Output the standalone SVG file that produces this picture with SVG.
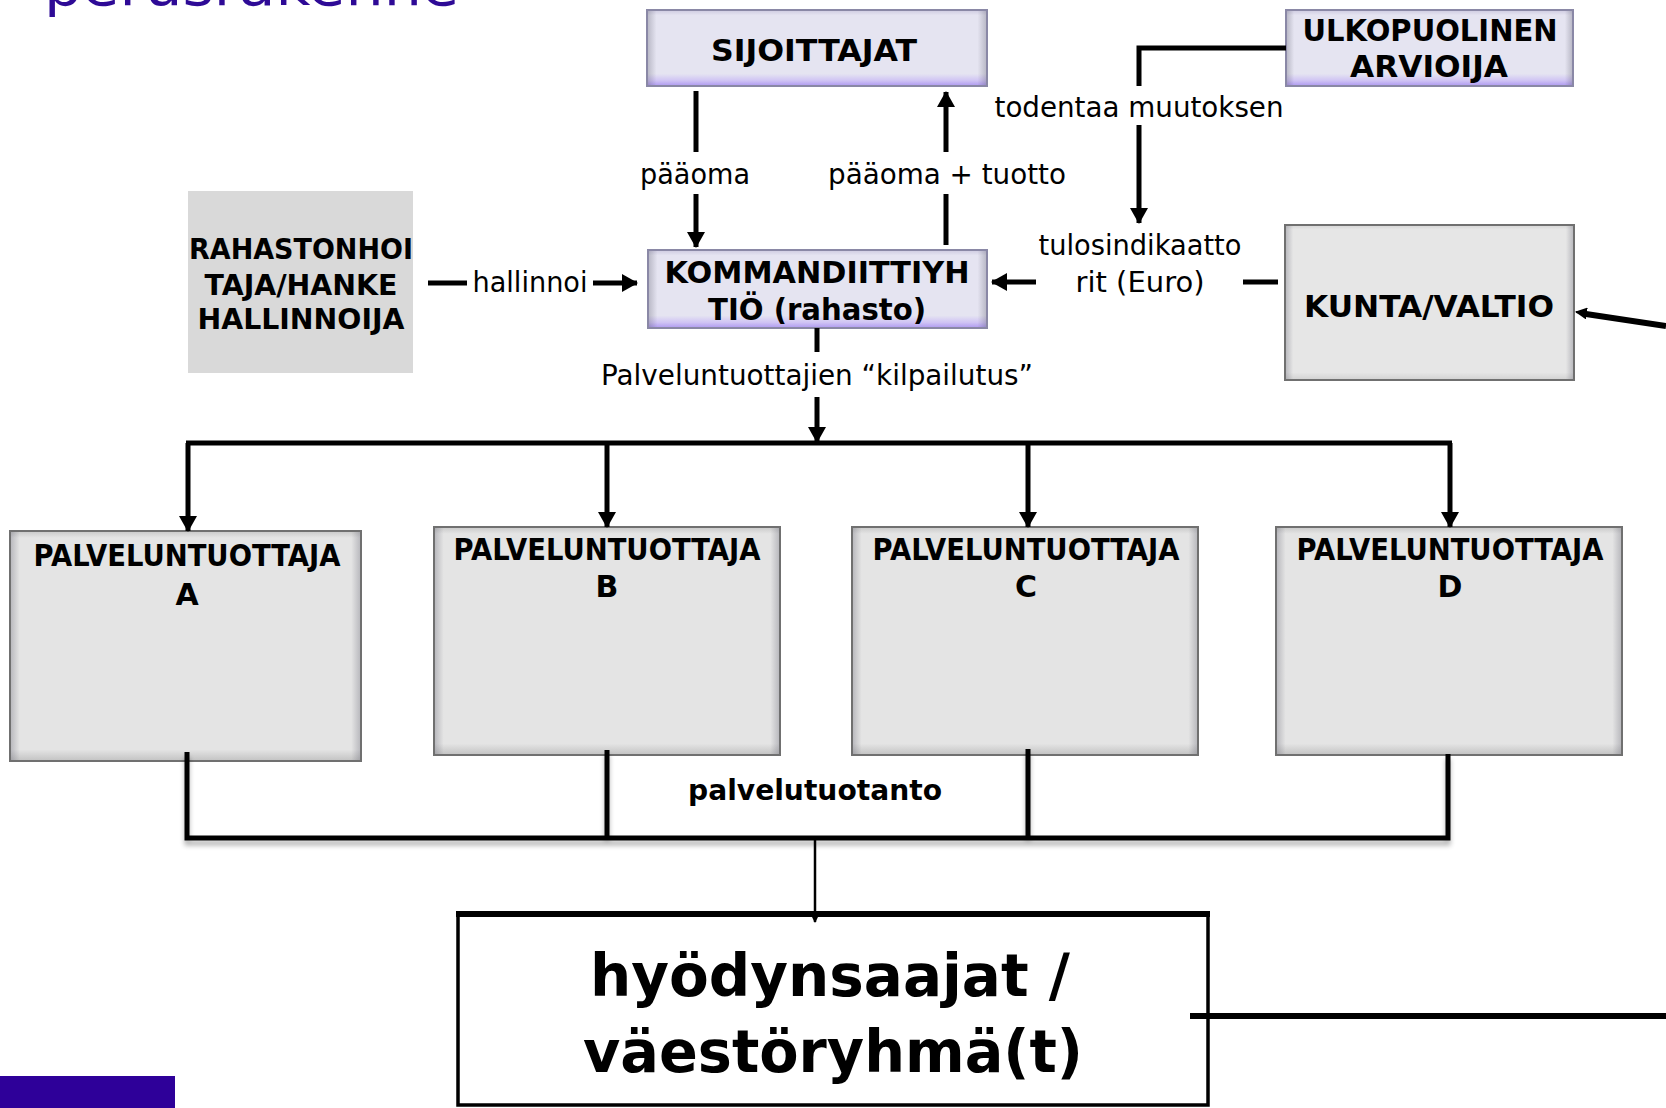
<svg xmlns="http://www.w3.org/2000/svg" width="1666" height="1108" viewBox="0 0 1666 1108">
<defs>
<style>
.t{font-family:"DejaVu Sans","Verdana",sans-serif;font-size:28px;fill:#000;text-anchor:middle}
.b{font-weight:bold}
.c{stroke:#000;stroke-width:5;fill:none}
.pbox{fill:url(#pv);stroke:#8a88a6;stroke-width:2}
.gbox{fill:url(#gv);stroke:#707070;stroke-width:2}
.hov{fill:url(#hs);stroke:none}
</style>
<linearGradient id="pv" x1="0" y1="0" x2="0" y2="1">
<stop offset="0" stop-color="#cdcae0"/>
<stop offset="0.07" stop-color="#e5e4f1"/>
<stop offset="0.84" stop-color="#e5e4f1"/>
<stop offset="0.93" stop-color="#cfc3f4"/>
<stop offset="1" stop-color="#ad98f0"/>
</linearGradient>
<linearGradient id="gv" x1="0" y1="0" x2="0" y2="1">
<stop offset="0" stop-color="#c8c8c8"/>
<stop offset="0.03" stop-color="#e4e4e4"/>
<stop offset="0.95" stop-color="#e4e4e4"/>
<stop offset="1" stop-color="#c2c2c2"/>
</linearGradient>
<linearGradient id="hs" x1="0" y1="0" x2="1" y2="0">
<stop offset="0" stop-color="#505060" stop-opacity="0.28"/>
<stop offset="0.025" stop-color="#505060" stop-opacity="0"/>
<stop offset="0.975" stop-color="#505060" stop-opacity="0"/>
<stop offset="1" stop-color="#505060" stop-opacity="0.28"/>
</linearGradient>
<marker id="ah" viewBox="0 0 16 18" refX="15" refY="9" markerWidth="16" markerHeight="18" markerUnits="userSpaceOnUse" orient="auto">
<path d="M0,0 L16,9 L0,18 z" fill="#000"/>
</marker>
<marker id="ahs" viewBox="0 0 12 12" refX="11" refY="6" markerWidth="12" markerHeight="12" markerUnits="userSpaceOnUse" orient="auto">
<path d="M0,0 L12,6 L0,12 z" fill="#000"/>
</marker>
<filter id="sh" x="-5%" y="-50%" width="110%" height="200%">
<feGaussianBlur in="SourceAlpha" stdDeviation="2.5"/>
<feOffset dx="0" dy="5" result="o"/>
<feComponentTransfer><feFuncA type="linear" slope="0.3"/></feComponentTransfer>
<feMerge><feMergeNode/><feMergeNode in="SourceGraphic"/></feMerge>
</filter>
</defs>
<rect width="1666" height="1108" fill="#fff"/>

<text x="44" y="5" style="font-family:'DejaVu Sans',Verdana,sans-serif;font-size:56px;fill:#2e0a96" textLength="415" lengthAdjust="spacingAndGlyphs">perusrakenne</text>
<rect x="0" y="1076" width="175" height="32" fill="#2e0099"/>

<g id="n-sijoittajat">
<rect class="pbox" x="647" y="10" width="340" height="76"/>
<rect class="hov" x="648" y="11" width="338" height="74"/>
<text class="t b" x="814" y="61" style="font-size:31px" textLength="206" lengthAdjust="spacingAndGlyphs">SIJOITTAJAT</text>
</g>
<g id="n-ulkopuolinen">
<rect class="pbox" x="1286" y="10" width="287" height="76"/>
<rect class="hov" x="1287" y="11" width="285" height="74"/>
<text class="t b" x="1430" y="41" style="font-size:30px" textLength="255" lengthAdjust="spacingAndGlyphs">ULKOPUOLINEN</text>
<text class="t b" x="1429" y="77" style="font-size:30px" textLength="158" lengthAdjust="spacingAndGlyphs">ARVIOIJA</text>
</g>
<g id="n-rahastonhoitaja">
<rect x="188" y="191" width="225" height="182" fill="#d9d9d9"/>
<text class="t b" x="301" y="259" textLength="224" lengthAdjust="spacingAndGlyphs">RAHASTONHOI</text>
<text class="t b" x="301" y="295" textLength="193" lengthAdjust="spacingAndGlyphs">TAJA/HANKE</text>
<text class="t b" x="301" y="329" textLength="207" lengthAdjust="spacingAndGlyphs">HALLINNOIJA</text>
</g>
<g id="n-kommandiittiyhtio">
<rect class="pbox" x="648" y="250" width="339" height="78"/>
<rect class="hov" x="649" y="251" width="337" height="76"/>
<text class="t b" x="817" y="283" style="font-size:30px" textLength="305" lengthAdjust="spacingAndGlyphs">KOMMANDIITTIYH</text>
<text class="t b" x="817" y="320" style="font-size:30px" textLength="218" lengthAdjust="spacingAndGlyphs">TIÖ (rahasto)</text>
</g>
<g id="n-kunta">
<rect class="gbox" x="1285" y="225" width="289" height="155" style="fill:#ebebeb"/>
<rect class="gbox" x="1285" y="225" width="289" height="155" style="fill:url(#gv);opacity:0.6"/>
<rect class="hov" x="1286" y="226" width="287" height="153"/>
<text class="t b" x="1429" y="317" style="font-size:30px" textLength="250" lengthAdjust="spacingAndGlyphs">KUNTA/VALTIO</text>
</g>
<g id="n-palvelu-a">
<rect class="gbox" x="10" y="531" width="351" height="230"/>
<rect class="hov" x="11" y="532" width="349" height="228"/>
<text class="t b" x="187" y="566" style="font-size:30px" textLength="307" lengthAdjust="spacingAndGlyphs">PALVELUNTUOTTAJA</text>
<text class="t b" x="187" y="605" style="font-size:30px">A</text>
</g>
<g id="n-palvelu-b">
<rect class="gbox" x="434" y="527" width="346" height="228"/>
<rect class="hov" x="435" y="528" width="344" height="226"/>
<text class="t b" x="607" y="560" style="font-size:30px" textLength="307" lengthAdjust="spacingAndGlyphs">PALVELUNTUOTTAJA</text>
<text class="t b" x="607" y="597" style="font-size:30px">B</text>
</g>
<g id="n-palvelu-c">
<rect class="gbox" x="852" y="527" width="346" height="228"/>
<rect class="hov" x="853" y="528" width="344" height="226"/>
<text class="t b" x="1026" y="560" style="font-size:30px" textLength="307" lengthAdjust="spacingAndGlyphs">PALVELUNTUOTTAJA</text>
<text class="t b" x="1026" y="597" style="font-size:30px">C</text>
</g>
<g id="n-palvelu-d">
<rect class="gbox" x="1276" y="527" width="346" height="228"/>
<rect class="hov" x="1277" y="528" width="344" height="226"/>
<text class="t b" x="1450" y="560" style="font-size:30px" textLength="307" lengthAdjust="spacingAndGlyphs">PALVELUNTUOTTAJA</text>
<text class="t b" x="1450" y="597" style="font-size:30px">D</text>
</g>
<g id="n-hyodynsaajat">
<rect x="458" y="914" width="750" height="191" fill="#fff" stroke="#000" stroke-width="3.5"/>
<line x1="456" y1="914" x2="1210" y2="914" stroke="#000" stroke-width="6"/>
<text class="t b" x="830" y="996" style="font-size:58px" textLength="480" lengthAdjust="spacingAndGlyphs">hyödynsaajat /</text>
<text class="t b" x="833" y="1072" style="font-size:58px" textLength="500" lengthAdjust="spacingAndGlyphs">väestöryhmä(t)</text>
</g>

<g id="connectors">
<line class="c" x1="696" y1="91" x2="696" y2="152"/>
<line class="c" x1="696" y1="194" x2="696" y2="247" marker-end="url(#ah)"/>
<text class="t" x="695" y="184" textLength="110" lengthAdjust="spacingAndGlyphs">pääoma</text>
<line class="c" x1="946" y1="245" x2="946" y2="194"/>
<line class="c" x1="946" y1="152" x2="946" y2="92" marker-end="url(#ah)"/>
<text class="t" x="947" y="184" textLength="238" lengthAdjust="spacingAndGlyphs">pääoma + tuotto</text>
<polyline class="c" points="1286,48 1139,48 1139,86"/>
<line class="c" x1="1139" y1="125" x2="1139" y2="223" marker-end="url(#ah)"/>
<text class="t" x="1139" y="117" textLength="289" lengthAdjust="spacingAndGlyphs">todentaa muutoksen</text>
<text class="t" x="1140" y="255" textLength="203" lengthAdjust="spacingAndGlyphs">tulosindikaatto</text>
<text class="t" x="1140" y="292" textLength="129" lengthAdjust="spacingAndGlyphs">rit (Euro)</text>
<line class="c" x1="1036" y1="282" x2="992" y2="282" marker-end="url(#ah)"/>
<line class="c" x1="1243" y1="282" x2="1278" y2="282"/>
<line class="c" x1="428" y1="283" x2="467" y2="283"/>
<text class="t" x="530" y="292" textLength="115" lengthAdjust="spacingAndGlyphs">hallinnoi</text>
<line class="c" x1="593" y1="283" x2="637" y2="283" marker-end="url(#ah)"/>
<line class="c" x1="817" y1="328" x2="817" y2="352"/>
<text class="t" x="817" y="385" textLength="432" lengthAdjust="spacingAndGlyphs">Palveluntuottajien “kilpailutus”</text>
<line class="c" x1="817" y1="397" x2="817" y2="442" marker-end="url(#ah)"/>
<line class="c" x1="186" y1="443" x2="1452" y2="443"/>
<line class="c" x1="188" y1="443" x2="188" y2="531" marker-end="url(#ah)"/>
<line class="c" x1="607" y1="443" x2="607" y2="527" marker-end="url(#ah)"/>
<line class="c" x1="1028" y1="443" x2="1028" y2="527" marker-end="url(#ah)"/>
<line class="c" x1="1450" y1="443" x2="1450" y2="527" marker-end="url(#ah)"/>
<g filter="url(#sh)">
<polyline class="c" points="187,752 187,838 1448,838 1448,754"/>
<line class="c" x1="607" y1="750" x2="607" y2="838"/>
<line class="c" x1="1028" y1="749" x2="1028" y2="838"/>
</g>
<text class="t b" x="815" y="800" textLength="254" lengthAdjust="spacingAndGlyphs">palvelutuotanto</text>
<line x1="815" y1="840" x2="815" y2="922" stroke="#000" stroke-width="2.5" marker-end="url(#ahs)"/>
<line x1="1190" y1="1016" x2="1666" y2="1016" stroke="#000" stroke-width="6"/>
<line x1="1666" y1="326" x2="1586" y2="314" stroke="#000" stroke-width="6"/>
<line x1="1590" y1="314" x2="1576" y2="312" stroke="#000" stroke-width="2" marker-end="url(#ahs)"/>
</g>
</svg>
